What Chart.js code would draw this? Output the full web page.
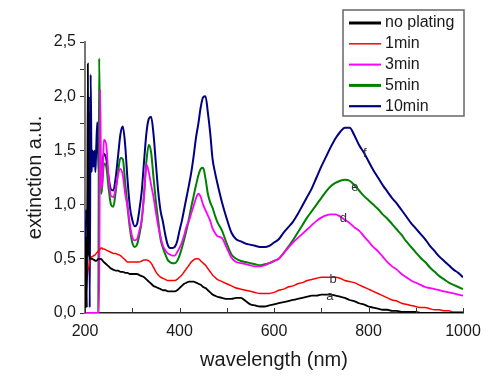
<!DOCTYPE html>
<html>
<head>
<meta charset="utf-8">
<script src="https://cdn.jsdelivr.net/npm/chart.js@4.4.0/dist/chart.umd.min.js"></script>
<style>
  html, body { margin: 0; padding: 0; background: #fff; }
  #wrap { width: 500px; height: 376px; }
</style>
</head>
<body>
<div id="wrap"><canvas id="specChart"></canvas></div>
<script>
// wavelength grid (nm) shared by all spectra
const wavelengths = [
  200,202,204,206,208,210,212,214,216,218,220,222,224,226,228,230,232,234,236,238,240,
  245,250,255,260,265,270,275,280,285,290,295,300,305,310,315,320,325,330,335,340,
  345,350,355,360,365,370,375,380,385,390,395,400,405,410,415,420,425,430,435,440,
  445,450,455,460,465,470,475,480,
  490,500,510,520,530,540,550,560,570,580,590,600,610,620,630,640,650,660,670,680,
  690,700,710,720,730,740,750,760,770,780,790,800,810,820,830,840,850,860,870,880,
  890,900,910,920,930,940,950,960,970,980,990,1000
];

const noPlating = [
  0,0.7,0.05,2.3,0.55,0.52,0.5,0.5,0.5,0.49,0.49,0.48,0.48,0.49,0.5,0.5,0.5,0.5,0.49,0.48,0.47,
  0.45,0.43,0.41,0.40,0.39,0.39,0.38,0.38,0.37,0.37,0.36,0.36,0.36,0.36,0.35,0.34,0.33,0.31,0.29,0.27,
  0.25,0.24,0.23,0.22,0.21,0.21,0.20,0.20,0.20,0.20,0.21,0.23,0.25,0.27,0.28,0.29,0.29,0.29,0.28,0.27,
  0.26,0.24,0.23,0.21,0.19,0.17,0.16,0.15,
  0.14,0.13,0.13,0.14,0.14,0.11,0.08,0.07,0.06,0.06,0.07,0.08,0.09,0.10,0.11,0.12,0.13,0.14,0.15,0.16,
  0.16,0.17,0.17,0.17,0.16,0.15,0.14,0.12,0.11,0.09,0.08,0.06,0.05,0.04,0.03,0.03,0.02,0.02,0.01,0.01,
  0.01,0.01,0,0,0,0,0,0,0,0,0,0
];

const plating1 = [
  0,0.15,0.3,0.38,0.42,0.47,0.5,0.52,0.52,0.53,0.53,0.54,0.55,0.56,0.57,0.58,0.59,0.6,0.6,0.59,0.59,
  0.58,0.57,0.56,0.55,0.55,0.54,0.53,0.51,0.49,0.47,0.47,0.47,0.47,0.47,0.47,0.48,0.49,0.49,0.48,0.46,
  0.42,0.38,0.35,0.33,0.32,0.31,0.30,0.30,0.30,0.30,0.31,0.33,0.35,0.38,0.41,0.44,0.47,0.49,0.50,0.50,
  0.48,0.46,0.44,0.41,0.38,0.35,0.33,0.31,
  0.29,0.27,0.25,0.23,0.22,0.21,0.20,0.19,0.18,0.18,0.18,0.19,0.21,0.22,0.24,0.25,0.27,0.28,0.30,0.31,
  0.32,0.33,0.33,0.33,0.33,0.32,0.30,0.29,0.28,0.26,0.24,0.22,0.20,0.18,0.16,0.14,0.12,0.11,0.09,0.08,
  0.07,0.06,0.05,0.05,0.04,0.03,0.03,0.02,0.02,0.01,0.01,0.01
];

const plating3 = [
  0,0,0,0,0,0,0,0,0,0,0,0,0,0,0,0,2.06,1.3,1.15,1.35,1.6,
  1.55,1.25,1.08,1.07,1.15,1.28,1.33,1.27,1.1,0.98,0.82,0.7,0.67,0.68,0.76,0.86,1.08,1.37,1.30,1.18,
  1.07,0.93,0.8,0.7,0.62,0.58,0.55,0.54,0.53,0.53,0.56,0.6,0.65,0.72,0.8,0.85,0.92,0.99,1.06,1.10,
  1.07,1.0,0.95,0.9,0.85,0.78,0.74,0.71,
  0.69,0.60,0.51,0.47,0.46,0.45,0.44,0.43,0.43,0.44,0.46,0.48,0.50,0.55,0.60,0.65,0.69,0.73,0.77,0.81,
  0.85,0.88,0.90,0.91,0.91,0.89,0.86,0.83,0.79,0.76,0.71,0.66,0.61,0.57,0.52,0.47,0.43,0.40,0.36,0.33,
  0.30,0.28,0.26,0.24,0.23,0.22,0.21,0.20,0.19,0.18,0.17,0.16
];

const plating5 = [
  0,0,0,0,0,0,0,0,0,0,0,0,0,0,0,2.35,1.5,1.1,1.15,1.28,1.38,
  1.35,1.15,1.0,0.98,1.12,1.3,1.43,1.42,1.2,0.98,0.78,0.65,0.61,0.63,0.72,0.85,1.1,1.4,1.55,1.48,
  1.25,1.03,0.85,0.68,0.6,0.54,0.49,0.47,0.46,0.46,0.48,0.53,0.6,0.68,0.77,0.87,0.98,1.08,1.18,1.27,
  1.33,1.34,1.24,1.10,1.02,0.97,0.90,0.84,
  0.76,0.64,0.54,0.50,0.48,0.47,0.46,0.45,0.44,0.45,0.46,0.48,0.50,0.55,0.61,0.67,0.74,0.81,0.88,0.94,
  1.0,1.06,1.12,1.17,1.20,1.22,1.23,1.22,1.18,1.13,1.08,1.04,1.0,0.96,0.91,0.87,0.82,0.77,0.72,0.66,
  0.61,0.56,0.51,0.47,0.42,0.38,0.34,0.31,0.28,0.26,0.24,0.22
];

const plating10 = [
  0,0.95,0.8,1.0,2.0,0.05,2.2,1.3,1.5,1.35,1.5,1.3,1.55,1.76,1.45,1.28,1.2,1.25,1.35,1.43,1.47,
  1.42,1.25,1.14,1.13,1.25,1.45,1.65,1.72,1.55,1.23,0.98,0.86,0.80,0.82,0.95,1.12,1.40,1.66,1.79,1.81,
  1.65,1.38,1.12,0.94,0.84,0.72,0.63,0.60,0.60,0.61,0.66,0.76,0.85,0.96,1.07,1.18,1.30,1.45,1.62,1.75,
  1.90,1.99,2.00,1.85,1.66,1.42,1.30,1.20,
  1.02,0.87,0.74,0.68,0.66,0.64,0.63,0.62,0.61,0.61,0.62,0.65,0.68,0.74,0.79,0.84,0.91,0.99,1.07,1.15,
  1.25,1.35,1.44,1.53,1.61,1.67,1.71,1.71,1.64,1.55,1.48,1.40,1.32,1.25,1.18,1.12,1.06,1.01,0.95,0.89,
  0.83,0.78,0.73,0.68,0.62,0.57,0.52,0.48,0.44,0.40,0.37,0.33
];

const seriesNames = ['no plating', '1min', '3min', '5min', '10min'];
const seriesColors = ['#000000', '#ff0000', '#ff00ff', '#008000', '#000080'];

// curve letters near the plasmon peaks
const letterText = ['a', 'b', 'd', 'e', 'f'];
const letterNm = [718, 725, 747, 771, 792];
const letterVal = [0.15, 0.31, 0.87, 1.16, 1.47];

const FONT = 'Liberation Sans, Arial, sans-serif';

function toPoints(vals) {
  return wavelengths.map((w, i) => ({ x: w, y: vals[i] }));
}

const allSeries = [noPlating, plating1, plating3, plating5, plating10];
const widths = [1.8, 1.5, 1.8, 2, 2];

const datasets = allSeries.map((vals, i) => ({
  label: seriesNames[i],
  data: toPoints(vals),
  borderColor: seriesColors[i],
  backgroundColor: seriesColors[i],
  borderWidth: widths[i],
  pointRadius: 0,
  cubicInterpolationMode: 'monotone',
  fill: false
}));

// x ticks point into the plot
const innerTicks = {
  id: 'innerTicks',
  afterDraw(chart) {
    const { ctx, chartArea } = chart;
    const x = chart.scales.x;
    ctx.save();
    ctx.strokeStyle = '#333';
    ctx.lineWidth = 1;
    x.ticks.forEach(t => {
      const px = Math.round(x.getPixelForValue(t.value)) + 0.5;
      ctx.beginPath();
      ctx.moveTo(px, chartArea.bottom);
      ctx.lineTo(px, chartArea.bottom - 5);
      ctx.stroke();
    });
    ctx.restore();
  }
};

const curveLetters = {
  id: 'curveLetters',
  afterDatasetsDraw(chart) {
    const { ctx } = chart;
    const x = chart.scales.x, y = chart.scales.y;
    ctx.save();
    ctx.fillStyle = '#333';
    ctx.font = '13px ' + FONT;
    ctx.textAlign = 'center';
    ctx.textBaseline = 'middle';
    letterText.forEach((s, i) => {
      ctx.fillText(s, x.getPixelForValue(letterNm[i]), y.getPixelForValue(letterVal[i]));
    });
    ctx.restore();
  }
};

// boxed legend in the upper right
const boxLegend = {
  id: 'boxLegend',
  afterDraw(chart) {
    const { ctx } = chart;
    const legendWidths = [3, 1.5, 2, 3, 2.2];
    ctx.save();
    ctx.fillStyle = '#fff';
    ctx.fillRect(343, 10, 121, 106);
    ctx.strokeStyle = '#666';
    ctx.lineWidth = 1.5;
    ctx.strokeRect(343, 10, 121, 106);
    ctx.font = '16px ' + FONT;
    ctx.textBaseline = 'middle';
    ctx.textAlign = 'left';
    seriesNames.forEach((name, i) => {
      const yy = 23 + i * 20.8;
      ctx.strokeStyle = seriesColors[i];
      ctx.lineWidth = legendWidths[i];
      ctx.beginPath();
      ctx.moveTo(349, yy);
      ctx.lineTo(381, yy);
      ctx.stroke();
      ctx.fillStyle = '#1a1a1a';
      ctx.fillText(name, 385, yy);
    });
    ctx.restore();
  }
};

const config = {
  type: 'line',
  data: { datasets },
  options: {
    responsive: true,
    maintainAspectRatio: false,
    animation: false,
    devicePixelRatio: 1,
    layout: { padding: { top: 42, right: 37, left: 0, bottom: 0 } },
    plugins: {
      legend: { display: false },
      tooltip: { enabled: false }
    },
    scales: {
      x: {
        type: 'linear',
        min: 200,
        max: 1000,
        afterFit: s => { s.height = 63; },
        ticks: {
          stepSize: 100,
          autoSkip: false,
          maxRotation: 0,
          padding: 9,
          color: '#1a1a1a',
          font: { family: FONT, size: 16 },
          callback: v => (v % 200 === 0 ? v : '')
        },
        grid: { drawOnChartArea: false, drawTicks: false },
        border: { display: true, color: '#222', width: 1.5 },
        title: {
          display: true,
          text: 'wavelength (nm)',
          color: '#1a1a1a',
          font: { family: FONT, size: 20 },
          padding: { top: 0, bottom: 4 }
        }
      },
      y: {
        min: 0,
        max: 2.5,
        afterFit: s => { s.width = 85; },
        ticks: {
          stepSize: 0.25,
          autoSkip: false,
          padding: 4,
          color: '#1a1a1a',
          font: { family: FONT, size: 16 },
          callback: v => (Math.abs(v * 2 - Math.round(v * 2)) < 1e-6 ? v.toFixed(1).replace('.', ',') : '')
        },
        grid: { drawOnChartArea: false, drawTicks: true, tickLength: 5, color: '#333' },
        border: { display: true, color: '#777', width: 2 },
        title: {
          display: true,
          text: 'extinction a.u.',
          color: '#1a1a1a',
          font: { family: FONT, size: 20 },
          padding: { top: 23, bottom: 0 }
        }
      }
    }
  },
  plugins: [innerTicks, curveLetters, boxLegend]
};

const ctx = document.getElementById('specChart').getContext('2d');
const specChart = new Chart(ctx, config);
</script>
</body>
</html>
